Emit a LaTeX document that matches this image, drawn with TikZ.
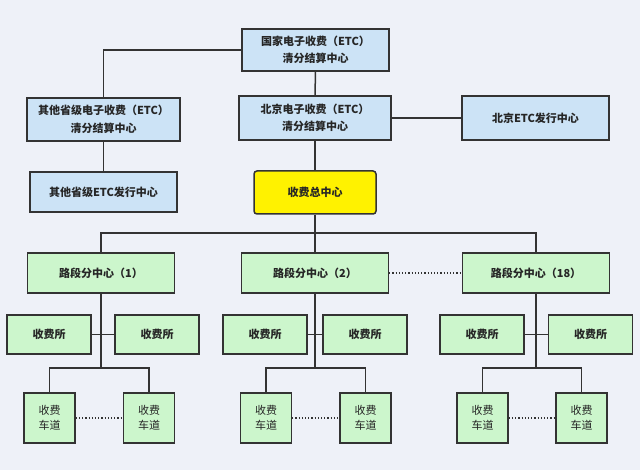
\documentclass[tikz,border=0pt]{standalone}
\usepackage{fontspec}
\setmainfont{Noto Sans CJK SC}
\newfontfamily\cjk{Noto Sans CJK SC}
\definecolor{bg}{HTML}{EEF1F8}
\definecolor{bluefill}{HTML}{CCE3F6}
\definecolor{greenfill}{HTML}{CCF6CC}
\definecolor{edge}{HTML}{333333}
\begin{document}
\begin{tikzpicture}[x=1pt,y=-1pt,
  box/.style={draw=edge,line width=1.5pt,align=center,inner sep=0pt,
    font=\cjk\bfseries\fontsize{11}{17.5}\selectfont,text=black!85},
  bluebox/.style={box,fill=bluefill},
  greenbox/.style={box,fill=greenfill},
  yellowbox/.style={box,fill=yellow,rounded corners=3pt},
  station/.style={greenbox,minimum width=84pt,minimum height=39pt},
  lane/.style={greenbox,minimum width=51pt,minimum height=50pt,
    font=\cjk\fontsize{11}{15.5}\selectfont},
  seg/.style={greenbox,minimum width=147pt,minimum height=40pt},
  link/.style={draw=edge,line width=1.5pt},
  dotlink/.style={draw=edge,line width=1.2pt,dotted}]
\fill[bg] (0,0) rectangle (640,470);
\useasboundingbox (0,0) rectangle (640,470);

\node[bluebox,minimum width=147pt,minimum height=42pt] (nat) at (315.5,50) {国家电子收费（ETC）\\清分结算中心};
\node[bluebox,minimum width=153pt,minimum height=43pt] (oth) at (103.5,119.5) {其他省级电子收费（ETC）\\清分结算中心};
\node[bluebox,minimum width=152pt,minimum height=44pt] (bjc) at (315,118) {北京电子收费（ETC）\\清分结算中心};
\node[bluebox,minimum width=147pt,minimum height=44pt] (bje) at (535.5,118) {北京ETC发行中心};
\node[bluebox,minimum width=147pt,minimum height=40pt] (othe) at (103.5,192) {其他省级ETC发行中心};
\node[yellowbox,minimum width=122pt,minimum height=43pt] (toll) at (315,192.5) {收费总中心};

\node[seg] (s1) at (101,273) {路段分中心（1）};
\node[seg] (s2) at (315,273) {路段分中心（2）};
\node[seg] (s3) at (536,273) {路段分中心（18）};

\node[station] (a1) at (49,334.5) {收费所};
\node[station] (b1) at (157,334.5) {收费所};
\node[station] (a2) at (265,334.5) {收费所};
\node[station] (b2) at (365,334.5) {收费所};
\node[station] (a3) at (482,334.5) {收费所};
\node[station] (b3) at (590.5,334.5) {收费所};

\node[lane] (l1) at (49.5,418) {收费\\车道};
\node[lane] (r1) at (149,418) {收费\\车道};
\node[lane] (l2) at (266,418) {收费\\车道};
\node[lane] (r2) at (365.5,418) {收费\\车道};
\node[lane] (l3) at (482.5,418) {收费\\车道};
\node[lane] (r3) at (581.5,418) {收费\\车道};

\coordinate (bus) at (315,233);
\coordinate (j1) at (101,368);
\coordinate (j2) at (315,368);
\coordinate (j3) at (536,368);

\draw[link] (nat.west) -| (oth.north);
\draw[link] (nat.south) -- (bjc.north);
\draw[link] (bjc.east) -- (bje.west);
\draw[link] (oth.south) -- (othe.north);
\draw[link] (bjc.south) -- (toll.north);
\draw[link] (toll.south) -- (s2.north);
\draw[link] (s1.north) |- (bus) -| (s3.north);
\draw[dotlink] (s2.east) -- (s3.west);

\foreach \i in {1,2,3}{
  \draw[link] (s\i.south) -- (j\i);
  \draw[link] (a\i.east) -- (b\i.west);
  \draw[link] (l\i.north) |- (j\i) -| (r\i.north);
  \draw[dotlink] (l\i.east) -- (r\i.west);
}
\end{tikzpicture}
\end{document}
